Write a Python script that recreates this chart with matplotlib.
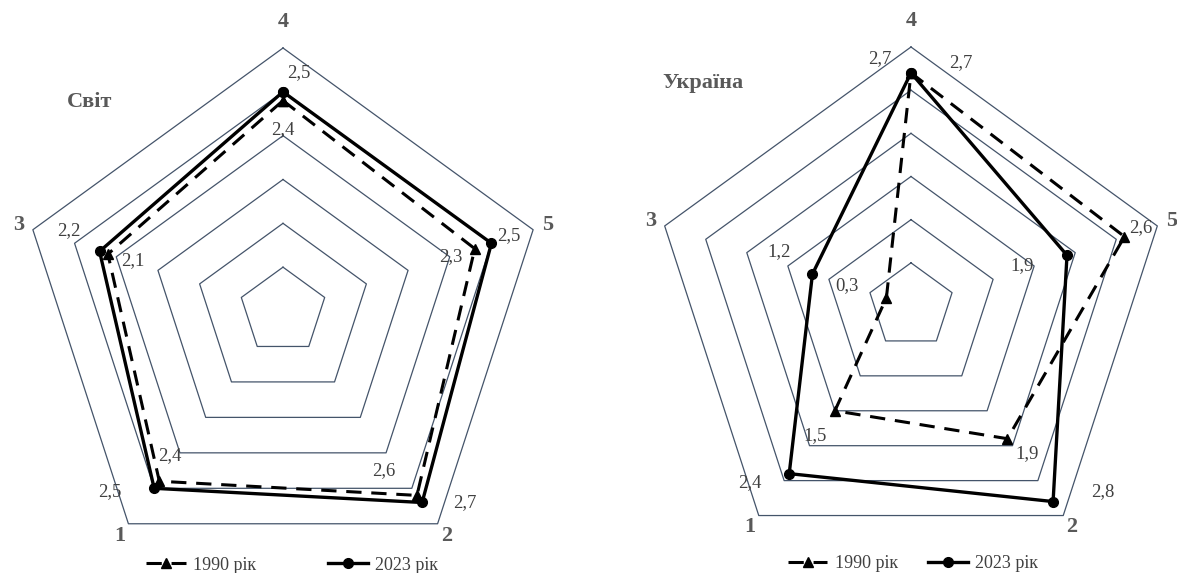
import numpy as np
import matplotlib
matplotlib.use("Agg")
import matplotlib.pyplot as plt

plt.rcParams['font.family'] = ['Liberation Serif', 'DejaVu Serif']

# data
categories = ['4', '5', '2', '1', '3']          # clockwise from the top
series_names = ['1990 рік', '2023 рік']
world_1990 = [2.4, 2.3, 2.6, 2.4, 2.1]
world_2023 = [2.5, 2.5, 2.7, 2.5, 2.2]
ukr_1990 = [2.7, 2.6, 1.9, 1.5, 0.3]
ukr_2023 = [2.7, 1.9, 2.8, 2.4, 1.2]
r_max = 3.0
ring_step = 0.5

W, H = 1177, 573
fig = plt.figure(figsize=(W / 100, H / 100), dpi=100)

angles = np.deg2rad(90 - 72 * np.arange(len(categories)))
grid_col = '#44546a'
txt_col = '#404040'
cat_col = '#595959'


def to_xy(vals):
    v = np.asarray(vals, dtype=float)
    return v * np.cos(angles), v * np.sin(angles)


def make_axes(cx, cy, R, hw=300, top=305, bottom=262):
    # cx, cy in pixels from the top-left; R = radius of outer ring in px
    s = R / r_max
    ax = fig.add_axes([(cx - hw) / W, 1 - (cy + bottom) / H,
                       2 * hw / W, (top + bottom) / H])
    ax.set_xlim(-hw / s, hw / s)
    ax.set_ylim(-bottom / s, top / s)
    ax.axis('off')
    return ax


def radar(ax, title, title_xy, v90, v23, offs90, offs23, leg_xy, colspace):
    for lev in np.arange(ring_step, r_max + 0.01, ring_step):
        gx, gy = to_xy([lev] * len(categories))
        ax.plot(np.append(gx, gx[0]), np.append(gy, gy[0]),
                color=grid_col, lw=0.9, zorder=1)

    x0, y0 = to_xy(v90)
    l1, = ax.plot(np.append(x0, x0[0]), np.append(y0, y0[0]), color='black',
                  lw=2.2, ls=(0, (5, 3.2)), marker='^', ms=7,
                  label=series_names[0], zorder=3)
    x1, y1 = to_xy(v23)
    l2, = ax.plot(np.append(x1, x1[0]), np.append(y1, y1[0]), color='black',
                  lw=2.4, marker='o', ms=7, label=series_names[1], zorder=4)

    for vals, xs, ys, offs in [(v90, x0, y0, offs90), (v23, x1, y1, offs23)]:
        for v, x, y, o in zip(vals, xs, ys, offs):
            ax.annotate(f"{v:.1f}".replace('.', ','), (x, y), xytext=o,
                        textcoords='offset pixels', ha='center', va='center',
                        fontsize=13.5, color=txt_col, annotation_clip=False)

    lab_r = [3.3, 3.17, 3.17, 3.17, 3.17]
    cxs, cys = to_xy(lab_r)
    for c, x, y in zip(categories, cxs, cys):
        ax.text(x, y, c, ha='center', va='center', fontsize=16,
                fontweight='bold', color=cat_col, clip_on=False)

    fig.text(title_xy[0] / W, 1 - title_xy[1] / H, title, ha='center',
             va='center', fontsize=16, fontweight='bold', color=cat_col)

    leg = ax.legend(handles=[l1, l2], loc='center',
                    bbox_to_anchor=(leg_xy[0] / W, 1 - leg_xy[1] / H),
                    bbox_transform=fig.transFigure, ncol=2, frameon=False,
                    fontsize=13, handlelength=2.2, handletextpad=0.4,
                    columnspacing=colspace, borderpad=0)
    for t in leg.get_texts():
        t.set_color(txt_col)


ax1 = make_axes(283, 311, 263)
radar(ax1, 'Світ', (90, 102), world_1990, world_2023,
      [(0, -29), (-24, -8), (-33, 25), (10, 26), (25, -6)],
      [(16, 19), (17, 8), (43, 0), (-44, -3), (-31, 21)],
      (292, 565), 4.0)

ax2 = make_axes(911, 306, 259, bottom=267)
radar(ax2, 'Україна', (703, 83), ukr_1990, ukr_2023,
      [(50, 10), (16, 9), (20, -15), (-20, -25), (-39, 12)],
      [(-31, 14), (-45, -10), (50, 10), (-39, -9), (-33, 22)],
      (913, 564), 1.7)

fig.savefig('out.png', dpi=100, facecolor='white')
